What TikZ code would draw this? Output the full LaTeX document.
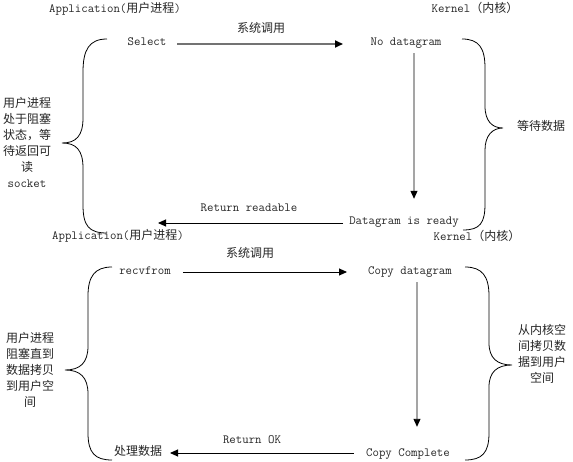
\documentclass[tikz,border=0pt]{standalone}
\usepackage{fontspec}
\newfontfamily\cjkfam{Noto Sans CJK SC}
\newcommand\zh[1]{{\cjkfam\fontsize{12bp}{16bp}\selectfont #1}}
\usetikzlibrary{arrows.meta}
\begin{document}
\begin{tikzpicture}[x=1bp,y=-1bp,
  lbl/.style={inner sep=1bp,text height=8bp,text depth=2bp,font=\ttfamily\fontsize{12.5bp}{16bp}\selectfont,text=black!85},
  blk/.style={inner sep=0bp,align=center,font=\ttfamily\fontsize{12.5bp}{16bp}\selectfont,text=black!85},
  arr/.style={draw=black,line width=0.9bp,-{Triangle[length=8bp,width=7bp]}},
  grayarr/.style={draw=black!55,line width=1.8bp,-{Triangle[length=8bp,width=7bp,color=black]}},
  brace/.style={draw=black,line width=0.8bp}]
\useasboundingbox (0,0) rectangle (573,462);
\fill[white] (0,0) rectangle (573,462);

% ---------- top part ----------
\node[lbl] (app1) at (115,10) {Application(\zh{用户进程})};
\node[lbl] (kern1) at (475,10) {Kernel\zh{（内核）}};
\node[lbl] (select) at (147,43) {Select};
\node[lbl] (nodata) at (406,43) {No datagram};
\node[lbl] (sys1) at (261,30) {\zh{系统调用}};
\node[lbl] (ready) at (404,222) {Datagram is ready};
\node[lbl] (retread) at (249,209) {Return readable};
\node[blk] (wait1) at (27,142) {\zh{用户进程}\\\zh{处于阻塞}\\\zh{状态，等}\\\zh{待返回可}\\\zh{读}\\socket};
\node[lbl] (waitdata) at (541,128) {\zh{等待数据}};

\coordinate (t1) at (343,44);
\coordinate (t3) at (158,223);
\draw[grayarr] ([xshift=9.5bp,yshift=-1bp]select.east) -- (t1);
\draw[arr] ([xshift=8bp,yshift=-4bp]nodata.south) -- ([xshift=10bp,yshift=17bp]ready.north);
\draw[arr] ([xshift=-5bp,yshift=-1bp]ready.west) -- (t3);

\draw[brace] (107,39) .. controls (89,39) and (83,50) .. (83,72) -- (83,118)
  .. controls (83,136) and (76,143) .. (62,143)
  .. controls (76,143) and (83,150) .. (83,168) -- (83,205)
  .. controls (83,226) and (89,233) .. (107,233);
\draw[brace] (462,39) .. controls (479,39) and (485,48) .. (485,68) -- (485,106)
  .. controls (485,121) and (492,128) .. (503,128)
  .. controls (492,128) and (485,136) .. (485,150) -- (485,204)
  .. controls (485,223) and (480,230) .. (463,230);

% ---------- bottom part ----------
\node[lbl] (app2) at (118,237) {Application(\zh{用户进程})};
\node[lbl] (kern2) at (477,238) {Kernel\zh{（内核）}};
\node[lbl] (recv) at (145,272) {recvfrom};
\node[lbl] (sys2) at (250,255) {\zh{系统调用}};
\node[lbl] (copyd) at (410,272) {Copy datagram};
\node[lbl] (copyc) at (408,453) {Copy Complete};
\node[lbl] (retok) at (252,440) {Return OK};
\node[lbl] (proc) at (138,452) {\zh{处理数据}};
\node[blk] (wait2) at (30,370) {\zh{用户进程}\\\zh{阻塞直到}\\\zh{数据拷贝}\\\zh{到用户空}\\\zh{间}};
\node[blk] (copytxt) at (542,354) {\zh{从内核空}\\\zh{间拷贝数}\\\zh{据到用户}\\\zh{空间}};

\coordinate (t4) at (347,272);
\coordinate (t6) at (170,453);
\draw[arr] ([xshift=10.8bp]recv.east) -- (t4);
\draw[arr] ([xshift=7bp,yshift=-4bp]copyd.south) -- ([xshift=9bp,yshift=20bp]copyc.north);
\draw[arr] ([xshift=-11.4bp]copyc.west) -- (t6);

\draw[brace] (112,267) .. controls (95,267) and (88,276) .. (88,296) -- (88,346)
  .. controls (88,363) and (80,370) .. (65,370)
  .. controls (80,370) and (88,377) .. (88,394) -- (88,433)
  .. controls (88,453) and (95,460) .. (112,460);
\draw[brace] (465,267) .. controls (482,267) and (489,276) .. (489,296) -- (489,343)
  .. controls (489,358) and (497,365) .. (512,365)
  .. controls (497,365) and (489,372) .. (489,387) -- (489,433)
  .. controls (489,453) and (482,460) .. (465,460);
\end{tikzpicture}
\end{document}
